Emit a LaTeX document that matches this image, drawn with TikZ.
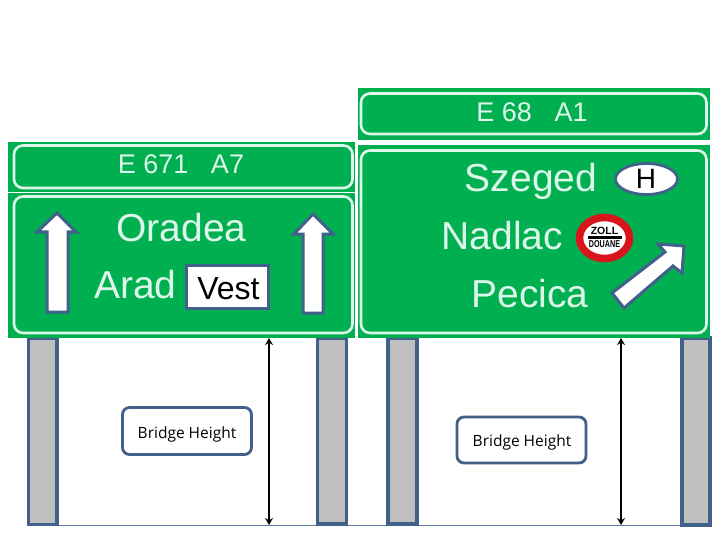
\documentclass[tikz,border=0pt]{standalone}
\usepackage{fontspec}
\setmainfont{Liberation Sans}
\newfontfamily\bridgefont{Open Sans}
\usetikzlibrary{arrows.meta,shapes.geometric}
\definecolor{signgreen}{HTML}{00B050}
\definecolor{signline}{HTML}{DDF6EA}
\definecolor{edgeblue}{HTML}{41608A}
\definecolor{pillargray}{HTML}{BFBFBF}
\definecolor{zollred}{HTML}{D8141C}
\tikzset{
  panel/.style={fill=signgreen,draw=none},
  inner/.style={draw=signline,line width=2.6pt,rounded corners=9pt},
  bigtext/.style={anchor=base,text=signline,inner sep=0pt,font=\fontsize{39}{39}\selectfont},
  roadtext/.style={anchor=base,text=signline,inner sep=0pt,font=\fontsize{27}{27}\selectfont},
  sarrow/.style={fill=white,draw=edgeblue,line width=3pt,line join=miter},
  pillar/.style={fill=pillargray,draw=edgeblue,line width=3.2pt},
  heightbox/.style={draw=edgeblue,fill=white,line width=2.8pt,rounded corners=7pt,inner sep=0pt,minimum height=47pt,minimum width=129pt},
  heighttext/.style={anchor=base,inner sep=0pt,text=black,font=\bridgefont\fontsize{15.5}{16}\selectfont},
  dim/.style={draw=black,line width=1.4pt,{Stealth[length=7pt,width=8pt]}-{Stealth[length=7pt,width=8pt]}}
}
\begin{document}
\begin{tikzpicture}[x=1pt,y=-1pt]
\useasboundingbox (0,0) rectangle (720,540);
\fill[white] (0,0) rectangle (720,540);
% ground
\coordinate (gl) at (27,525);
\coordinate (gr) at (711,525);
\draw[edgeblue!85,line width=1pt] (gl) -- (gr);
% pillars
\draw[pillar] (28.5,338) rectangle (57,524.5);
\draw[pillar] (317.5,338) rectangle (346.5,524);
\draw[pillar] (388,338) rectangle (417,524);
\draw[pillar] (682,338) rectangle (710,525);
% panels
\fill[panel] (8,142) rectangle (355,192.5);
\fill[panel] (8,193.5) rectangle (355,338);
\fill[panel] (358,88) rectangle (710,140);
\fill[panel] (358,145) rectangle (710,338);
\draw[inner] (14,145.5) rectangle (352.5,188);
\draw[inner] (14,196.5) rectangle (352.5,333);
\draw[inner] (361,93.5) rectangle (706.5,134);
\draw[inner] (361,150.5) rectangle (706.5,333);
% road numbers
\node[roadtext] (e671) at (181,174) {E 671 \ \ A7};
\node[roadtext] (e68) at (532,122) {E 68 \ \ A1};
% place names
\node[bigtext] (oradea) at (181.5,241) {Oradea};
\node[bigtext] (arad) at (135.5,298) {Arad};
\node[bigtext] (szeged) at (531,192) {Szeged};
\node[bigtext] (nadlac) at (502.5,249) {Nadlac};
\node[bigtext] (pecica) at (530,307) {Pecica};
% Vest
\node[draw=edgeblue,fill=white,line width=2.8pt,minimum width=82pt,minimum height=43pt,inner sep=0pt] (vestbox) at (227.5,287) {};
\node[anchor=base,inner sep=0pt,text=black,font=\fontsize{32}{32}\selectfont] (vest) at (228.5,299) {Vest};
% arrows
\draw[sarrow] (57,213) -- (76,232) -- (68,232) -- (68,312) -- (47,312) -- (47,232) -- (37,232) -- cycle;
\draw[sarrow] (313,214) -- (333,234) -- (323,234) -- (323,313) -- (303,313) -- (303,234) -- (294,234) -- cycle;
\draw[sarrow] (684,246) -- (682,273) -- (673,266) -- (624,308) -- (612,293) -- (665,252) -- (658,244) -- cycle;
% H
\node[draw=edgeblue,fill=white,line width=2.8pt,ellipse,minimum width=62pt,minimum height=31pt,inner sep=0pt] (hoval) at (646.5,179) {};
\node[anchor=base,inner sep=0pt,text=black,font=\fontsize{28}{28}\selectfont] (hmark) at (646,189) {H};
% Zoll sign
\node[ellipse,draw=zollred,fill=white,line width=7.5pt,minimum width=50pt,minimum height=41pt,inner sep=0pt] (zoll) at (604.5,238) {};
\coordinate (zbl) at (587.5,237.5);
\coordinate (zbr) at (621.5,237.5);
\draw[black,line width=2.4pt] (zbl) -- (zbr);
\node[inner sep=0pt,text=black,font=\bfseries\fontsize{10.5}{10}\selectfont] (zolltext) at (604.5,231) {ZOLL};
\node[inner sep=0pt,text=black,font=\bfseries\fontsize{10}{10}\selectfont,xscale=.72] (douane) at (604.5,244.5) {DOUANE};
% Bridge height
\node[heightbox] (bh1) at (187,431) {};
\node[heighttext] (bt1) at (187,438) {Bridge Height};
\node[heightbox,minimum height=46pt] (bh2) at (521.5,440) {};
\node[heighttext] (bt2) at (522,446) {Bridge Height};
% dimensions
\coordinate (d1t) at (269,338);
\coordinate (d1b) at (269,525);
\coordinate (d2t) at (621,338);
\coordinate (d2b) at (621,525);
\draw[dim] (d1t) -- (d1b);
\draw[dim] (d2t) -- (d2b);
\end{tikzpicture}
\end{document}
